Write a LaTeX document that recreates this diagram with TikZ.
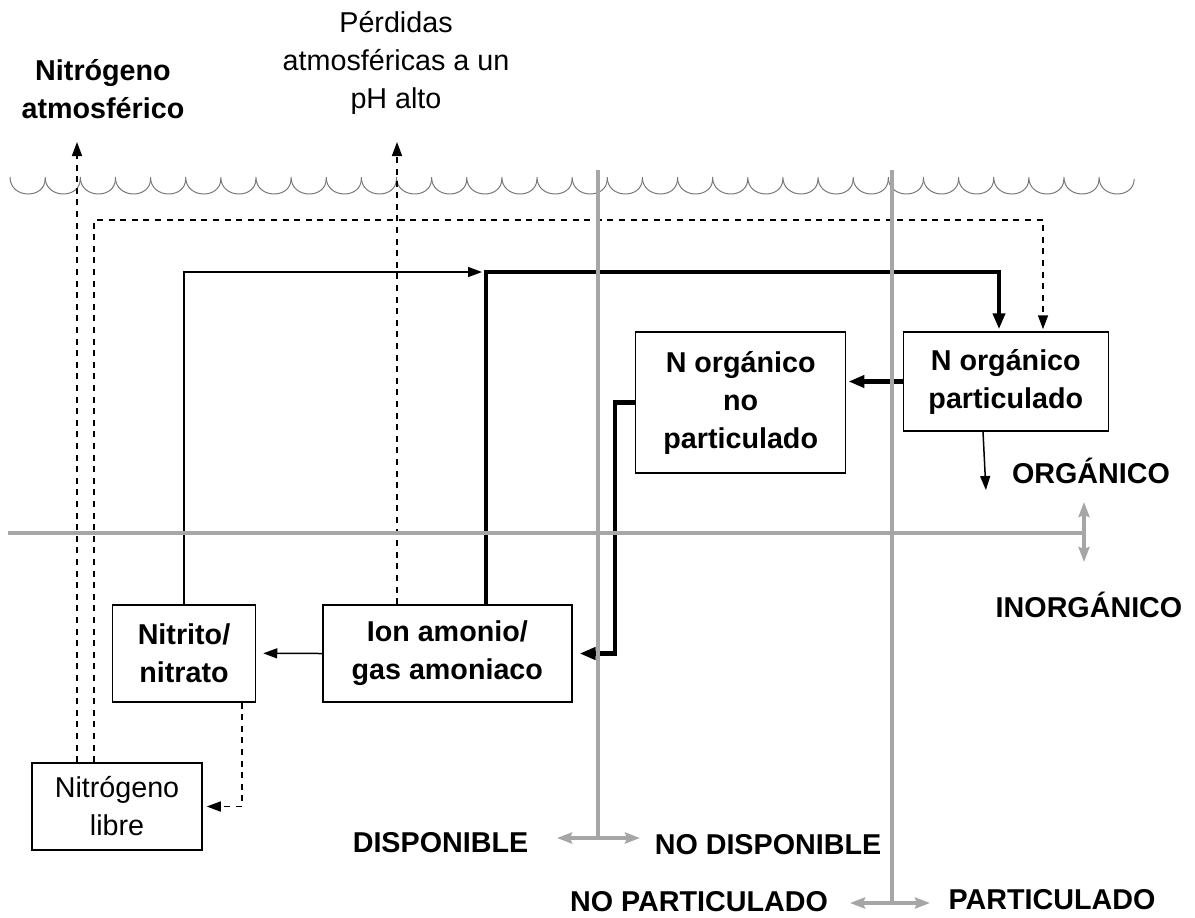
\documentclass[tikz,border=0pt]{standalone}
\usepackage{fontspec}
\setmainfont{Liberation Sans}
\usetikzlibrary{arrows.meta, positioning}
\definecolor{axisgray}{RGB}{166,166,166}
\definecolor{wavegray}{RGB}{120,120,120}
\def\txtsize{\fontsize{14.35}{19}\selectfont}

\begin{document}
\begin{tikzpicture}[x=0.5pt,y=-0.5pt,>={Triangle[length=7pt,width=5pt]},shorten >=1pt,font=\txtsize]
    \tikzstyle{pool}=[draw=black,line width=0.75pt,inner sep=0pt,align=center]
    \tikzstyle{main pool}=[pool,font=\txtsize\bfseries]
    \tikzstyle{flow}=[line width=0.75pt]
    \tikzstyle{main flow}=[line width=2.25pt,>={Triangle[length=8pt,width=6pt]}]
    \tikzstyle{gas}=[line width=0.8pt,dash pattern=on 3pt off 2.8pt]
    \tikzstyle{axis}=[draw=axisgray,line width=1.75pt,shorten >=0pt,>={Stealth[length=7.5pt,width=5.5pt,inset=1pt]}]
    \tikzstyle{annot}=[font=\txtsize\bfseries]

    \useasboundingbox (0,0) rectangle (1195,917);

    % water surface
    \foreach \i in {0,...,31}
        \draw[wavegray,line width=0.5pt] ({10+35.13*\i},177) .. controls +(0,22.3) and +(0,22.3) .. ({45.13+35.13*\i},177);

    \node[main pool,minimum width=102.5pt,minimum height=49.5pt] (NP) at (1005.8,381.5) {N orgánico\\particulado};
    \node[main pool,minimum width=105pt,minimum height=70.5pt] (NNP) at (740.7,402.5) {N orgánico\\no\\particulado};
    \node[main pool,minimum width=124.5pt,minimum height=48.5pt] (IA) at (447.3,653.5) {Ion amonio/\\gas amoniaco};
    \node[main pool,minimum width=71.5pt,minimum height=48.5pt] (NN) at (184,653.3) {Nitrito/\\nitrato};
    \node[pool,minimum width=85pt,minimum height=43.5pt] (NL) at (117,806.5) {Nitrógeno\\libre};

    \node[annot,align=center] (atm) at (103,89) {Nitrógeno\\atmosférico};
    \node[align=center] (perd) at (396,63) {Pérdidas\\atmosféricas a un\\pH alto};

    \coordinate (atmtip) at (77,140);
    \coordinate (perdtip) at (397,140);
    \coordinate (loopL) at (94,220);
    \coordinate (loopR) at (1043,220);
    \coordinate (upL) at (486,272);
    \coordinate (upR) at (999,272);
    \coordinate (back) at (615,653.5);
    \coordinate (lossN) at (242,808);
    \coordinate (orgtip) at (986,492);

    \draw[gas,->] (NL.north -| atmtip) -- (atmtip);
    \draw[gas,->] (NL.north -| loopL) -- (loopL) -- (loopR) -- (NP.north -| loopR);
    \draw[gas,->] (IA.north -| perdtip) -- (perdtip);
    \draw[gas,->,shorten >=2pt] (NN.south -| lossN) |- (NL.east);

    \draw[flow,->,shorten >=2pt] (NN.north) |- (upL);
    \draw[main flow,->] (IA.north -| upL) -- (upL) -- (upR) -- (NP.north -| upR);
    \draw[main flow,->] (NP.west) -- (NNP.east |- NP.west);
    \draw[main flow,->,shorten >=3.5pt] (NNP.west) -| (back) -- (IA.east);
    \draw[flow,->,shorten >=3.5pt] (IA.west) -- (NN.east);
    \draw[flow,->] ([xshift=-11.4pt]NP.south) -- (orgtip);

    % dividing lines
    \draw[axis] (8,533) -- (1084,533);
    \draw[axis,<->] (1084,502) -- (1084,562);
    \draw[axis] (598,170) -- (598,838);
    \draw[axis,<->] (557,838) -- (640,838);
    \draw[axis] (892,170) -- (892,903);
    \draw[axis,<->] (850,903) -- (930,903);

    \node[annot] (org) at (1091,471) {ORGÁNICO};
    \node[annot] (inorg) at (1089,605) {INORGÁNICO};
    \node[annot] (disp) at (440.5,843) {DISPONIBLE};
    \node[annot] (nodisp) at (768,845) {NO DISPONIBLE};
    \node[annot] (nopart) at (699,902) {NO PARTICULADO};
    \node[annot] (part) at (1052,900) {PARTICULADO};
\end{tikzpicture}
\end{document}
